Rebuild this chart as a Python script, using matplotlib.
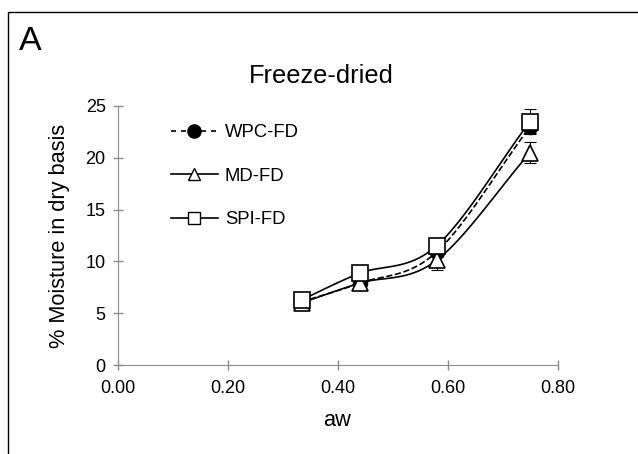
import numpy as np
import matplotlib
matplotlib.use('Agg')
import matplotlib.pyplot as plt
from matplotlib.patches import Rectangle

plt.rcParams['font.family'] = ['Liberation Sans', 'DejaVu Sans']

# Data
aw = [0.335, 0.44, 0.58, 0.75]
wpc = [6.1, 7.9, 10.9, 23.0]
md = [6.0, 7.9, 10.1, 20.5]
spi = [6.3, 8.85, 11.5, 23.5]
wpc_err = [0.3, 0.3, 0.5, 0.6]
md_err = [0.4, 0.3, 0.9, 1.0]
spi_err = [0.3, 0.3, 0.5, 1.2]


def smooth(x, y, n=40):
    # Catmull-Rom style curve through the points, similar to Excel smoothing
    x = np.asarray(x, float)
    y = np.asarray(y, float)
    px = np.concatenate([[2 * x[0] - x[1]], x, [2 * x[-1] - x[-2]]])
    py = np.concatenate([[2 * y[0] - y[1]], y, [2 * y[-1] - y[-2]]])
    xs, ys = [], []
    t = np.linspace(0, 1, n)
    for i in range(1, len(px) - 2):
        p0, p1, p2, p3 = [np.array([px[j], py[j]]) for j in range(i - 1, i + 3)]
        m1 = (p2 - p0) / 6.0
        m2 = (p3 - p1) / 6.0
        b0, b1, b2, b3 = p1, p1 + m1, p2 - m2, p2
        pts = ((1 - t) ** 3)[:, None] * b0 + (3 * (1 - t) ** 2 * t)[:, None] * b1 \
            + (3 * (1 - t) * t ** 2)[:, None] * b2 + (t ** 3)[:, None] * b3
        xs.extend(pts[:, 0])
        ys.extend(pts[:, 1])
    return xs, ys


fig = plt.figure(figsize=(6.38, 4.54), dpi=100)
fig.patches.append(Rectangle((8 / 638, -0.05), 1.2, 1 - 12 / 454 + 0.05,
                             transform=fig.transFigure, fill=False,
                             edgecolor='black', linewidth=1.0))
fig.text(19 / 638, 1 - 50 / 454, 'A', fontsize=24.5, va='baseline', ha='left')

ax = fig.add_axes([117.5 / 638, 1 - 365 / 454, 440 / 638, 259 / 454])

series = [
    (wpc, wpc_err, 'WPC-FD', '--', 'o', 'black', 10),
    (md, md_err, 'MD-FD', '-', '^', 'white', 11),
    (spi, spi_err, 'SPI-FD', '-', 's', 'white', 12),
]
for vals, err, label, ls, mk, fc, ms in series:
    sx, sy = smooth(aw, vals)
    ax.plot(sx, sy, color='black', linestyle=ls, linewidth=1.2)
    ax.errorbar(aw, vals, yerr=err, fmt='none', ecolor='black', elinewidth=0.8,
                capsize=4, capthick=0.8)
    ax.plot(aw, vals, linestyle='none', marker=mk, markersize=ms,
            markerfacecolor=fc, markeredgecolor='black', markeredgewidth=1.2)

# legend handles
handles = [
    plt.Line2D([], [], color='black', linestyle=(0, (3, 3)), marker='o', markersize=9.5,
               markerfacecolor='black', markeredgecolor='black', linewidth=1.2),
    plt.Line2D([], [], color='black', linestyle='-', marker='^', markersize=9,
               markerfacecolor='white', markeredgecolor='black', linewidth=1.2),
    plt.Line2D([], [], color='black', linestyle='-', marker='s', markersize=8.5,
               markerfacecolor='white', markeredgecolor='black', linewidth=1.2),
]
fig.legend(handles, ['WPC-FD', 'MD-FD', 'SPI-FD'], loc='upper left',
           bbox_to_anchor=(171 / 638, 1 - 124 / 454), frameon=False, fontsize=13.3,
           handlelength=2.54, labelspacing=1.44, handletextpad=0.38,
           borderpad=0, borderaxespad=0)

ax.set_xlim(0, 0.8)
ax.set_ylim(0, 25)
ax.set_xticks([0, 0.2, 0.4, 0.6, 0.8])
ax.set_xticklabels(['0.00', '0.20', '0.40', '0.60', '0.80'])
ax.set_yticks([0, 5, 10, 15, 20, 25])
for s in ['top', 'right']:
    ax.spines[s].set_visible(False)
for s in ['left', 'bottom']:
    ax.spines[s].set_color('#8c8c8c')
ax.tick_params(axis='both', direction='inout', length=7, color='#8c8c8c',
               labelsize=13, labelcolor='black', width=1)
ax.tick_params(axis='x', pad=7)
ax.tick_params(axis='y', pad=5)

ax.text((321 - 117.5) / 440, (365 - 76) / 259, 'Freeze-dried', fontsize=18.3,
        ha='center', va='center', transform=ax.transAxes)
ax.set_xlabel('aw', fontsize=15.7)
ax.set_ylabel('% Moisture in dry basis', fontsize=15.7)
ax.xaxis.set_label_coords(0.5, (365 - 410) / 259)
ax.yaxis.set_label_coords((70 - 117.5) / 440, 0.5)

fig.savefig('out.png', dpi=100)
